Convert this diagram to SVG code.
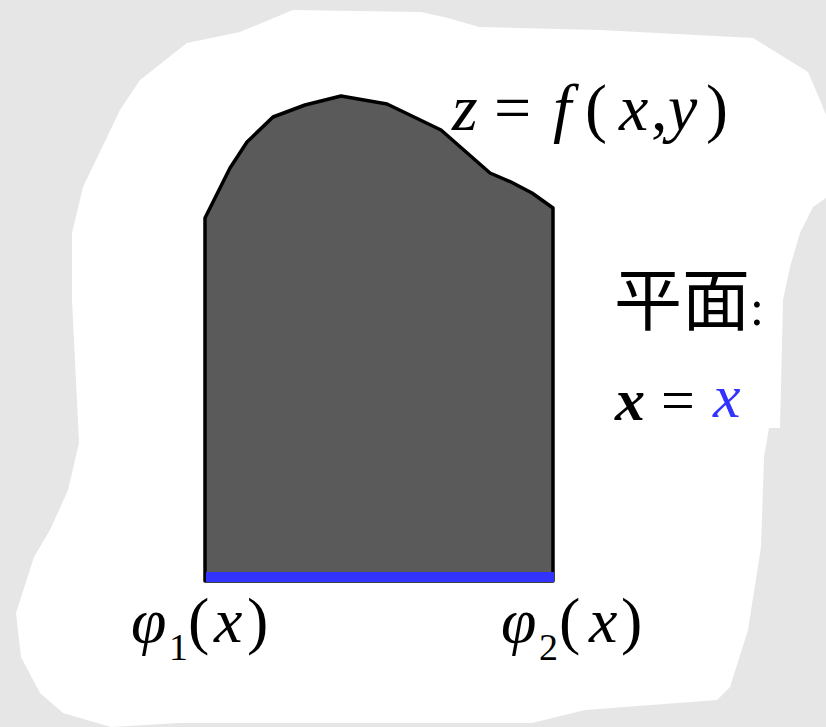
<svg xmlns="http://www.w3.org/2000/svg" width="826" height="727" viewBox="0 0 826 727">
<style>
.m{font-family:"Liberation Serif","Times New Roman",serif;fill:#000}
.i{font-style:italic}
.cjk{font-family:"Noto Sans CJK SC","Noto Sans CJK JP",sans-serif;fill:#000}
</style>
<rect width="826" height="727" fill="#e6e6e6"/>
<path id="blob" d="M293,10 L421,12 L448,18 L479,27 L600,30 L753,38 L808,72 L820,100 L830,125 L830,195 L813,207 L800,233 L790,267 L783,300 L780,428 L769,428 L764,457 L761,547 L748,630 L730,687 L717,700 L585,710 L532,723 L179,723 L111,727 L63,713 L40,693 L21,657 L16,613 L34,557 L50,530 L68,490 L79,443 L72,300 L72,233 L83,187 L120,110 L140,80 L187,43 L240,32 Z" fill="#ffffff"/>
<g id="region">
<path d="M205,218 L230,168 L247,142 L273,117 L305,105 L341,96 L387,104 L441,130 L490,173 L511,182 L532,193 L553,208 L553,581 L205,581 Z" fill="#5a5a5a" stroke="#000" stroke-width="3.5" stroke-linejoin="round"/>
<rect x="206" y="572" width="348" height="10" fill="#3333ff"/>
</g>
<g id="label-surface">
<text class="m" font-size="66" y="130"><tspan class="i" x="452">z</tspan><tspan x="494">=</tspan><tspan class="i" x="553">f</tspan><tspan x="585">(</tspan><tspan class="i" x="619">x</tspan><tspan x="651">,</tspan><tspan class="i" x="668">y</tspan><tspan x="706">)</tspan></text>
</g>
<g id="label-plane">
<text class="cjk" font-size="68" x="614" y="325">平面<tspan class="m" font-size="50" x="750">:</tspan></text>
</g>
<g id="label-eq">
<text class="m" font-size="60" y="420"><tspan class="i" font-weight="bold" x="615">x</tspan><tspan x="661">=</tspan><tspan class="i" x="713" y="417" font-size="62" fill="#3333ff">x</tspan></text>
</g>
<g id="label-phi1">
<text class="m" font-size="64" y="642"><tspan class="i" x="131">φ</tspan><tspan font-size="38" x="169" y="660">1</tspan><tspan x="188" y="642">(</tspan><tspan class="i" x="214">x</tspan><tspan x="247">)</tspan></text>
</g>
<g id="label-phi2">
<text class="m" font-size="64" y="642"><tspan class="i" x="501">φ</tspan><tspan font-size="38" x="539" y="660">2</tspan><tspan x="559" y="642">(</tspan><tspan class="i" x="589">x</tspan><tspan x="621">)</tspan></text>
</g>
</svg>
